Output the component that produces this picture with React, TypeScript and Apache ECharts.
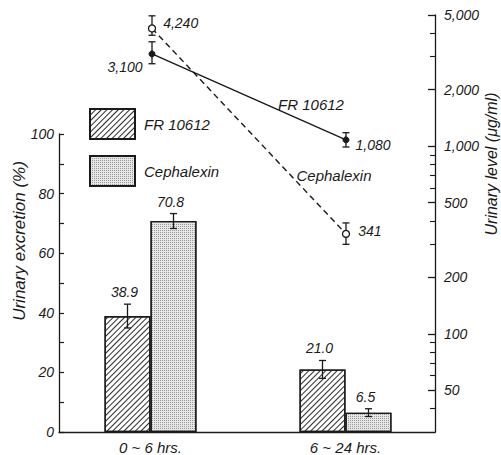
import React, { useEffect, useRef } from 'react';
import * as echarts from 'echarts';

// ---- data ----
const categories = ['0 ~ 6 hrs.', '6 ~ 24 hrs.'];
const drugNames = ['FR 10612', 'Cephalexin'];
// urinary excretion (%) – bars
const excretionFR = [38.9, 21.0];
const excretionCEX = [70.8, 6.5];
const excretionErrFR = [4.0, 3.0];
const excretionErrCEX = [2.5, 1.3];
// urinary level (µg/ml) – lines (log scale)
const levelFR = [3100, 1080];
const levelCEX = [4240, 341];
const levelLowFR = [2750, 990];
const levelHighFR = [3600, 1180];
const levelLowCEX = [3900, 300];
const levelHighCEX = [4950, 390];
// right axis ticks
const rightLabelTicks = [50, 100, 200, 500, 1000, 2000, 5000];
const rightMinorTicks = [40, 60, 70, 80, 90, 300, 400, 600, 700, 800, 900, 3000, 4000];
const rightMin = 30;
const rightMax = 5000;

const FONT = '"Liberation Sans", Arial, sans-serif';
const INK = '#1a1a1a';

const fmt = (v: number) => String(v).replace(/\B(?=(\d{3})+(?!\d))/g, ',');
const lg = (v: number) => Math.log10(v);

function barErrRender(offset: number) {
  return (params: any, api: any) => {
    const idx = api.value(0);
    const v = api.value(1);
    const e = api.value(2);
    const top = api.coord([idx, v + e]);
    const bot = api.coord([idx, v - e]);
    const x = top[0] + offset;
    const cap = 3.5;
    const st = { stroke: INK, lineWidth: 1.3 };
    return {
      type: 'group',
      children: [
        { type: 'line', shape: { x1: x, y1: top[1], x2: x, y2: bot[1] }, style: st },
        { type: 'line', shape: { x1: x - cap, y1: top[1], x2: x + cap, y2: top[1] }, style: st },
        { type: 'line', shape: { x1: x - cap, y1: bot[1], x2: x + cap, y2: bot[1] }, style: st },
        {
          type: 'text',
          x: x - 3,
          y: top[1] - 12,
          style: {
            text: v.toFixed(1),
            align: 'center',
            verticalAlign: 'middle',
            textAlign: 'center',
            textVerticalAlign: 'middle',
            font: `italic 14px ${FONT}`,
            fill: INK,
          },
        },
      ],
    };
  };
}

function lineErrRender(params: any, api: any) {
  const idx = api.value(0);
  const lo = api.coord([idx, api.value(1)]);
  const hi = api.coord([idx, api.value(2)]);
  const x = lo[0];
  const cap = 3.5;
  const st = { stroke: INK, lineWidth: 1.3 };
  return {
    type: 'group',
    children: [
      { type: 'line', shape: { x1: x, y1: lo[1], x2: x, y2: hi[1] }, style: st },
      { type: 'line', shape: { x1: x - cap, y1: lo[1], x2: x + cap, y2: lo[1] }, style: st },
      { type: 'line', shape: { x1: x - cap, y1: hi[1], x2: x + cap, y2: hi[1] }, style: st },
    ],
  };
}

const hatchDecal = {
  symbol: 'rect',
  symbolSize: 1,
  dashArrayX: [1, 0],
  dashArrayY: [0.7, 2.4],
  rotation: -Math.PI / 4,
  color: '#2a2a2a',
};
const dotDecal = {
  symbol: 'rect',
  symbolSize: 1,
  dashArrayX: [1, 1],
  dashArrayY: [1, 1],
  rotation: 0,
  color: '#9a9a9a',
};

const lineLabelFR = [
  { position: 'left', distance: 6, offset: [0, 13] },
  { position: 'right', distance: 6, offset: [0, 5] },
];
const lineLabelCEX = [
  { position: 'right', distance: 7, offset: [0, -5] },
  { position: 'right', distance: 8, offset: [0, -3] },
];

export default function App() {
  const ref = useRef<HTMLDivElement>(null);

  useEffect(() => {
    if (!ref.current) return;
    const chart = echarts.init(ref.current, undefined, { renderer: 'svg' });

    const textStyle = { fontFamily: FONT, fontStyle: 'italic', color: INK };

    const option: any = {
      animation: false,
      backgroundColor: '#fff',
      textStyle: { fontFamily: FONT },
      legend: {
        orient: 'vertical',
        left: 84,
        top: 103,
        itemWidth: 45,
        itemHeight: 30,
        itemGap: 15,
        icon: 'rect',
        selectedMode: false,
        data: drugNames,
        textStyle: { ...textStyle, fontSize: 15, padding: [0, 0, 0, 4] },
      },
      grid: [
        { left: 53, right: 58, top: 134, bottom: 23 },
        { left: 59, right: 66, top: 15, bottom: 23 },
      ],
      xAxis: [
        {
          type: 'category',
          gridIndex: 0,
          data: categories,
          axisLine: { show: false },
          axisTick: { show: false },
          axisLabel: { ...textStyle, fontSize: 15, margin: 8 },
        },
        {
          type: 'value',
          gridIndex: 1,
          min: -0.4794,
          max: 1.4588,
          axisLine: { show: true, onZero: false, lineStyle: { color: INK, width: 1.3 } },
          axisTick: { show: false },
          axisLabel: { show: false },
          splitLine: { show: false },
        },
      ],
      yAxis: [
        {
          type: 'value',
          gridIndex: 0,
          position: 'left',
          offset: -6,
          min: 0,
          max: 100,
          interval: 20,
          axisLine: { show: true, onZero: false, lineStyle: { color: INK, width: 1.3 } },
          axisTick: { show: true, inside: true, length: 5, lineStyle: { color: INK, width: 1.2 } },
          minorTick: { show: true, splitNumber: 2, length: 5, lineStyle: { color: INK, width: 1.2 } },
          axisLabel: { ...textStyle, fontSize: 14, margin: 5 },
          splitLine: { show: false },
        },
        {
          type: 'value',
          gridIndex: 1,
          position: 'right',
          min: lg(rightMin),
          max: lg(rightMax),
          axisLine: { show: true, onZero: false, lineStyle: { color: INK, width: 1.3 } },
          axisTick: {
            show: true,
            inside: true,
            length: 7,
            customValues: rightLabelTicks.map(lg),
            lineStyle: { color: INK, width: 1.3 },
          },
          axisLabel: {
            ...textStyle,
            fontSize: 14,
            margin: 9,
            customValues: rightLabelTicks.map(lg),
            formatter: (v: number) => fmt(Math.round(Math.pow(10, v))),
          },
          splitLine: { show: false },
        },
        {
          type: 'value',
          gridIndex: 1,
          position: 'right',
          min: lg(rightMin),
          max: lg(rightMax),
          axisLine: { show: false, onZero: false },
          axisTick: {
            show: true,
            inside: true,
            length: 5,
            customValues: rightMinorTicks.map(lg),
            lineStyle: { color: INK, width: 1.1 },
          },
          axisLabel: { show: false },
          splitLine: { show: false },
        },
      ],
      series: [
        {
          name: drugNames[0],
          type: 'bar',
          xAxisIndex: 0,
          yAxisIndex: 0,
          barWidth: 46,
          barGap: '0%',
          data: excretionFR,
          itemStyle: { color: '#ffffff', borderColor: INK, borderWidth: 1.3, decal: hatchDecal },
        },
        {
          name: drugNames[1],
          type: 'bar',
          xAxisIndex: 0,
          yAxisIndex: 0,
          barWidth: 46,
          barGap: '0%',
          data: excretionCEX,
          itemStyle: { color: '#e6e6e6', borderColor: INK, borderWidth: 1.3, decal: dotDecal },
        },
        {
          name: 'FR err',
          type: 'custom',
          xAxisIndex: 0,
          yAxisIndex: 0,
          z: 5,
          renderItem: barErrRender(-23),
          data: excretionFR.map((v, i) => [i, v, excretionErrFR[i]]),
        },
        {
          name: 'CEX err',
          type: 'custom',
          xAxisIndex: 0,
          yAxisIndex: 0,
          z: 5,
          renderItem: barErrRender(23),
          data: excretionCEX.map((v, i) => [i, v, excretionErrCEX[i]]),
        },
        {
          name: 'FR 10612 level',
          type: 'line',
          xAxisIndex: 1,
          yAxisIndex: 1,
          z: 6,
          symbol: 'circle',
          symbolSize: 6,
          lineStyle: { color: INK, width: 1.4, type: 'solid' },
          itemStyle: { color: INK, borderColor: INK, borderWidth: 1 },
          data: levelFR.map((v, i) => ({
            value: [i, lg(v)],
            label: {
              show: true,
              ...lineLabelFR[i],
              formatter: () => fmt(v),
              ...textStyle,
              fontSize: 14,
            },
          })),
        },
        {
          name: 'Cephalexin level',
          type: 'line',
          xAxisIndex: 1,
          yAxisIndex: 1,
          z: 6,
          symbol: 'circle',
          symbolSize: 7,
          lineStyle: { color: INK, width: 1.4, type: [6, 4] },
          itemStyle: { color: '#ffffff', borderColor: INK, borderWidth: 1.3 },
          data: levelCEX.map((v, i) => ({
            value: [i, lg(v)],
            label: {
              show: true,
              ...lineLabelCEX[i],
              formatter: () => fmt(v),
              ...textStyle,
              fontSize: 14,
            },
          })),
        },
        {
          name: 'FR level err',
          type: 'custom',
          xAxisIndex: 1,
          yAxisIndex: 1,
          z: 5,
          renderItem: lineErrRender,
          data: levelFR.map((_, i) => [i, lg(levelLowFR[i]), lg(levelHighFR[i])]),
        },
        {
          name: 'CEX level err',
          type: 'custom',
          xAxisIndex: 1,
          yAxisIndex: 1,
          z: 5,
          renderItem: lineErrRender,
          data: levelCEX.map((_, i) => [i, lg(levelLowCEX[i]), lg(levelHighCEX[i])]),
        },
      ],
      graphic: [
        {
          type: 'text',
          x: 19,
          y: 241,
          rotation: Math.PI / 2,
          style: {
            text: 'Urinary excretion (%)',
            font: `italic 17px ${FONT}`,
            fill: INK,
            align: 'center',
            verticalAlign: 'middle',
          },
        },
        {
          type: 'text',
          x: 491,
          y: 164,
          rotation: Math.PI / 2,
          style: {
            text: 'Urinary level (μg/ml)',
            font: `italic 16px ${FONT}`,
            fill: INK,
            align: 'center',
            verticalAlign: 'middle',
          },
        },
        {
          type: 'text',
          x: 311,
          y: 104,
          style: {
            text: drugNames[0],
            font: `italic 15px ${FONT}`,
            fill: INK,
            align: 'center',
            verticalAlign: 'middle',
          },
        },
        {
          type: 'text',
          x: 334,
          y: 175,
          style: {
            text: drugNames[1],
            font: `italic 15px ${FONT}`,
            fill: INK,
            align: 'center',
            verticalAlign: 'middle',
          },
        },
      ],
    };

    chart.setOption(option);
    return () => chart.dispose();
  }, []);

  return (
    <div
      ref={ref}
      style={{ position: 'fixed', left: 0, top: 0, width: 501, height: 455, background: '#fff' }}
    />
  );
}
